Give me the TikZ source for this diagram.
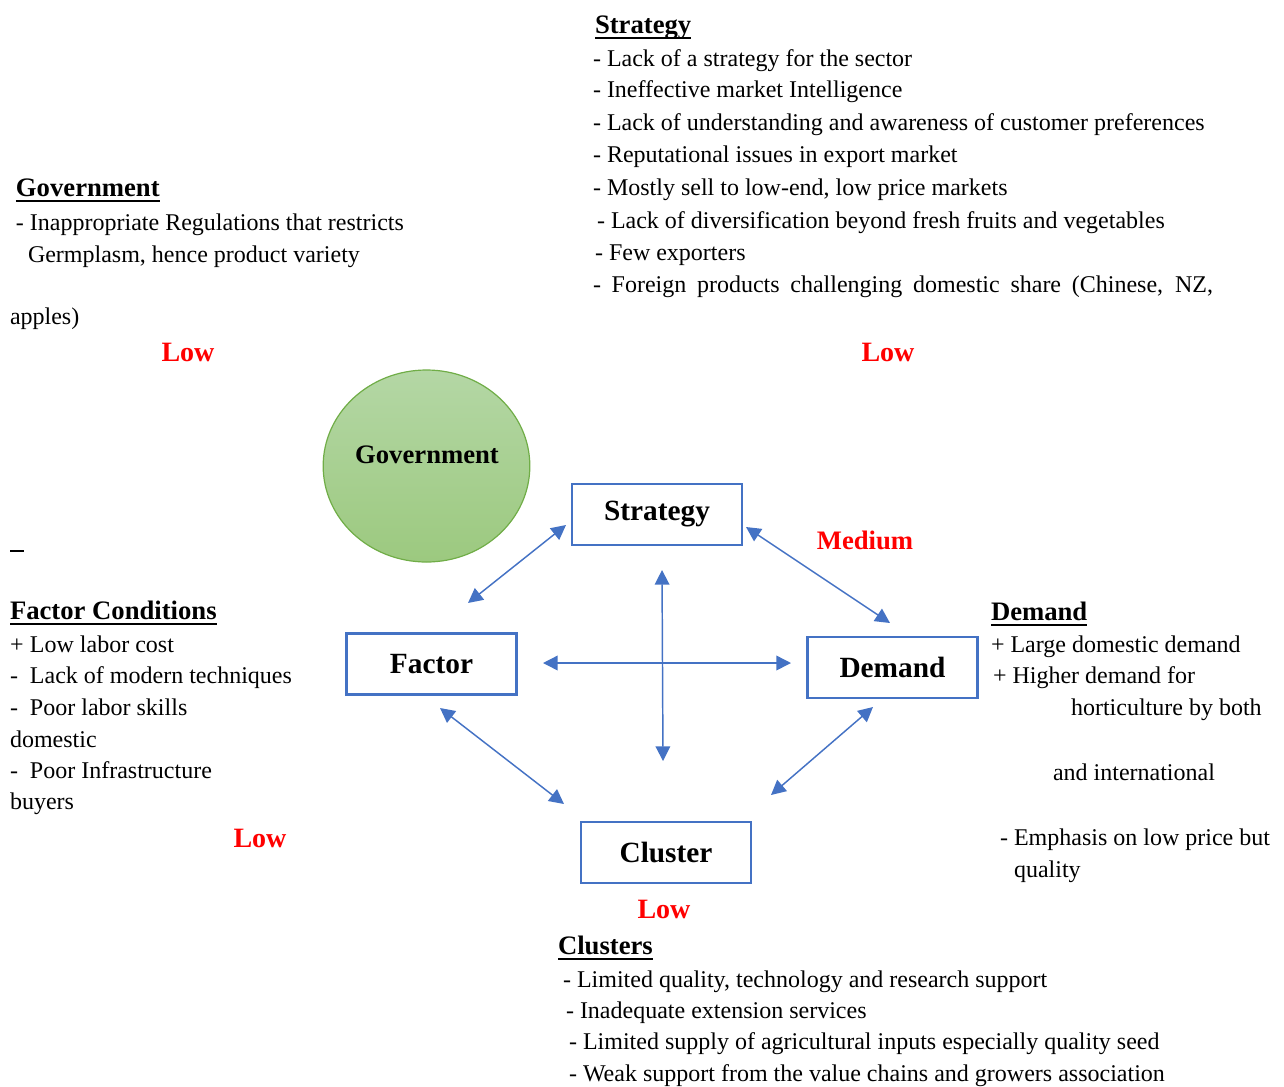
\documentclass[tikz,border=0pt]{standalone}
\usepackage{fontspec}
\setmainfont{Liberation Serif}
\usetikzlibrary{arrows.meta,shapes.geometric}
\definecolor{boxblue}{HTML}{4472C4}
\definecolor{gtop}{HTML}{B4D7A5}
\definecolor{gbot}{HTML}{9CC97F}
\definecolor{gedge}{HTML}{70AD47}
\newcommand\ulhead[1]{\setbox0=\hbox{#1}\rlap{\rule[-4.2pt]{\wd0}{1.4pt}}\box0}
\newcommand\mk[1]{\makebox[15pt][l]{#1}}
\begin{document}
\begin{tikzpicture}[x=0.75pt,y=-0.75pt,
  body/.style={anchor=base west,inner sep=0pt,outer sep=0pt,font=\fontsize{18}{21}\selectfont},
  head/.style={anchor=base west,inner sep=0pt,outer sep=0pt,font=\fontsize{20}{24}\selectfont\bfseries},
  rating/.style={anchor=base,inner sep=0pt,outer sep=0pt,text=red,font=\fontsize{21}{25}\selectfont\bfseries},
  forcebox/.style={draw=boxblue,line width=1.9pt,minimum width=127.5pt,minimum height=45.75pt,inner sep=0pt,font=\fontsize{22}{26}\selectfont\bfseries},
  link/.style={draw=boxblue,line width=1.1pt,{Triangle[length=11pt,width=11pt]}-{Triangle[length=11pt,width=11pt]}}]
\useasboundingbox (0,0) rectangle (1284,1086);

% Strategy text block
\node[head] (sh) at (595,33) {\ulhead{Strategy}};
\node[body] (s1) at (593,66) {- Lack of a strategy for the sector};
\node[body] (s2) at (593,97) {- Ineffective market Intelligence};
\node[body] (s3) at (593,130) {- Lack of understanding and awareness of customer preferences};
\node[body] (s4) at (593,162) {- Reputational issues in export market};
\node[body] (s5) at (593,195) {- Mostly sell to low-end, low price markets};
\node[body] (s6) at (597,228) {- Lack of diversification beyond fresh fruits and vegetables};
\node[body] (s7) at (595,260) {- Few exporters};
\node[body] (s8) at (593,292) {\makebox[465pt][s]{- Foreign products challenging domestic share (Chinese, NZ,}};
\node[body] (s9) at (10,324) {apples)};

% Government text block
\node[head] (gh) at (16,196) {\ulhead{Government}};
\node[body] (g1) at (16,230) {- Inappropriate Regulations that restricts};
\node[body] (g2) at (28,262) {Germplasm, hence product variety};

% ratings
\node[rating] (lowgov) at (188,361) {Low};
\node[rating] (lowstr) at (888,361) {Low};
\node[rating,font=\fontsize{20}{24}\selectfont\bfseries] (med) at (865,549) {Medium};
\node[rating] (lowfac) at (260,847) {Low};
\node[rating] (lowclu) at (664,918) {Low};

% government circle
\node[ellipse,draw=gedge,line width=0.9pt,top color=gtop,bottom color=gbot,minimum width=155pt,minimum height=144pt,inner sep=0pt] (govc) at (426.5,466) {};
\node[anchor=base,inner sep=0pt,font=\fontsize{20}{24}\selectfont\bfseries] (govl) at (427,463) {Government};

% stray mark
\fill (10,549.8) rectangle (24,552.3);

% Factor conditions block
\node[head] (fh) at (10,619) {\ulhead{Factor Conditions}};
\node[body] (f1) at (10,652) {\mk{+}Low labor cost};
\node[body] (f2) at (10,683) {\mk{-}Lack of modern techniques};
\node[body] (f3) at (10,715) {\mk{-}Poor labor skills};
\node[body] (f4) at (10,747) {domestic};
\node[body] (f5) at (10,778) {\mk{-}Poor Infrastructure};
\node[body] (f6) at (10,809) {buyers};

% Demand block
\node[head] (dh) at (991,620) {\ulhead{Demand}};
\node[body] (d1) at (991,652) {+ Large domestic demand};
\node[body] (d2) at (993,683) {+ Higher demand for};
\node[body] (d3) at (1071,715) {horticulture by both};
\node[body] (d4) at (1053,780) {and international};
\node[body] (d5) at (1000,845) {- Emphasis on low price but};
\node[body] (d6) at (1014,877) {quality};

% Clusters block
\node[head] (ch) at (558,954) {\ulhead{Clusters}};
\node[body] (c1) at (563,987) {- Limited quality, technology and research support};
\node[body] (c2) at (566,1018) {- Inadequate extension services};
\node[body] (c3) at (569,1049) {- Limited supply of agricultural inputs especially quality seed};
\node[body] (c4) at (569,1081) {- Weak support from the value chains and growers association};

% boxes
\node[forcebox] (strategy) at (657,514.5) {Strategy};
\node[forcebox] (factor) at (431.5,664) {Factor};
\node[forcebox] (demand) at (892.5,667.5) {Demand};
\node[forcebox] (cluster) at (666,852.5) {Cluster};

% arrow end points
\coordinate (sf1) at (566,525);
\coordinate (sf2) at (468,603);
\coordinate (sd1) at (746,527);
\coordinate (sd2) at (890,623);
\coordinate (v1) at (662,570);
\coordinate (v2) at (663,761);
\coordinate (h1) at (543,663);
\coordinate (h2) at (791,663);
\coordinate (fc1) at (440,708);
\coordinate (fc2) at (564,804);
\coordinate (dc1) at (873,707);
\coordinate (dc2) at (771,795);

\draw[link] (sf1) -- (sf2);
\draw[link] (sd1) -- (sd2);
\draw[link] (v1) -- (v2);
\draw[link] (h1) -- (h2);
\draw[link] (fc1) -- (fc2);
\draw[link] (dc1) -- (dc2);
\end{tikzpicture}
\end{document}
